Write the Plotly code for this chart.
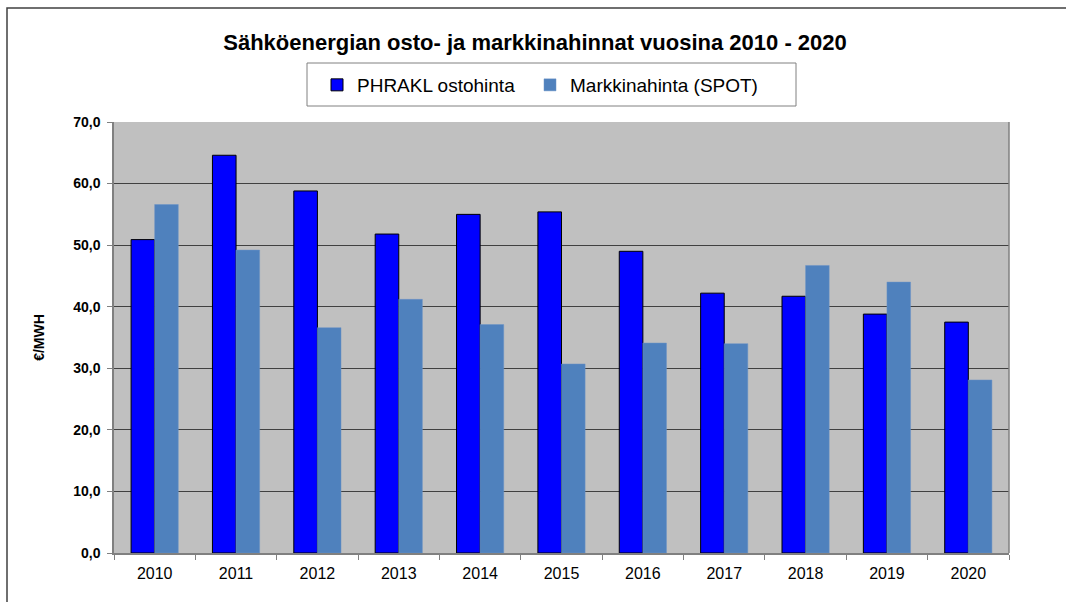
import plotly.graph_objects as go

years = ["2010", "2011", "2012", "2013", "2014", "2015", "2016", "2017", "2018", "2019", "2020"]
phrakl = [50.9, 64.6, 58.8, 51.8, 55.0, 55.4, 49.0, 42.2, 41.7, 38.8, 37.5]
spot = [56.6, 49.2, 36.6, 41.2, 37.1, 30.7, 34.1, 34.0, 46.7, 44.0, 28.1]

W, H = 1066, 602
L, R, T, B = 114, 1009, 122, 553

def px_x(x):
    return (x - L) / (R - L)

def px_y(y):
    return (B - y) / (B - T)

FONT = "Liberation Sans, Arial, sans-serif"

fig = go.Figure()
fig.add_trace(go.Bar(
    x=years, y=phrakl, name="PHRAKL ostohinta", legend="legend", showlegend=True,
    marker=dict(color="#0000FF", line=dict(color="#000000", width=1)),
))
fig.add_trace(go.Bar(
    x=years, y=spot, name="Markkinahinta (SPOT)", legend="legend2", showlegend=True,
    marker=dict(color="#4F81BD", line=dict(color="#6A93C6", width=0.5)),
))

shapes = [
    # outer chart frame
    dict(type="rect", xref="paper", yref="paper",
         x0=px_x(7), x1=px_x(1075), y0=px_y(610), y1=px_y(8),
         line=dict(color="#404040", width=1.5), fillcolor="rgba(0,0,0,0)", layer="below"),
    # legend box
    dict(type="rect", xref="paper", yref="paper",
         x0=px_x(307), x1=px_x(796), y0=px_y(106), y1=px_y(63),
         line=dict(color="#808080", width=1), fillcolor="rgba(0,0,0,0)", layer="below"),
    # right border of plot area
    dict(type="line", xref="paper", yref="paper", x0=1, x1=1, y0=0, y1=1,
         line=dict(color="#808080", width=1.5)),
]

leg_common = dict(
    orientation="h", xanchor="left", y=px_y(85), yanchor="middle",
    font=dict(size=19, family=FONT), bgcolor="rgba(0,0,0,0)", borderwidth=0,
    itemwidth=30, visible=True,
)

fig.update_layout(
    width=W, height=H,
    margin=dict(l=L, r=W - R, t=T, b=H - B, pad=0),
    paper_bgcolor="white",
    plot_bgcolor="#C0C0C0",
    separators=", ",
    showlegend=True,
    barmode="group",
    bargap=0.42,
    bargroupgap=0,
    font=dict(family=FONT, color="#000000"),
    title=dict(
        text="<b>Sähköenergian osto- ja markkinahinnat vuosina 2010 - 2020</b>",
        x=535 / W, xanchor="center", y=1 - 42 / H, yanchor="middle",
        font=dict(size=22, family=FONT, color="#000000"),
    ),
    legend=dict(x=px_x(317), **leg_common),
    legend2=dict(x=px_x(530), **leg_common),
    shapes=shapes,
    xaxis=dict(
        type="category",
        showline=True, linecolor="#808080", linewidth=1.5, mirror=False,
        ticks="outside", tickson="boundaries", ticklen=5, tickcolor="#808080",
        tickfont=dict(size=16, family=FONT, color="#000000"),
        ticklabelstandoff=5,
        showgrid=False,
    ),
    yaxis=dict(
        range=[0, 70], dtick=10, tickformat=".1f",
        showline=True, linecolor="#808080", linewidth=1.5,
        ticks="outside", ticklen=5, tickcolor="#808080",
        tickfont=dict(size=14, family=FONT, color="#000000", weight="bold"),
        ticklabelstandoff=4,
        showgrid=True, gridcolor="#404040", gridwidth=1,
        title=dict(text="<b>€/MWH</b>", font=dict(size=14, family=FONT), standoff=25),
        zeroline=False,
    ),
)

fig.write_html(
    "out.html",
    config={"displayModeBar": False},
    post_script="document.body.style.margin='0px';document.body.style.overflow='hidden';",
)
